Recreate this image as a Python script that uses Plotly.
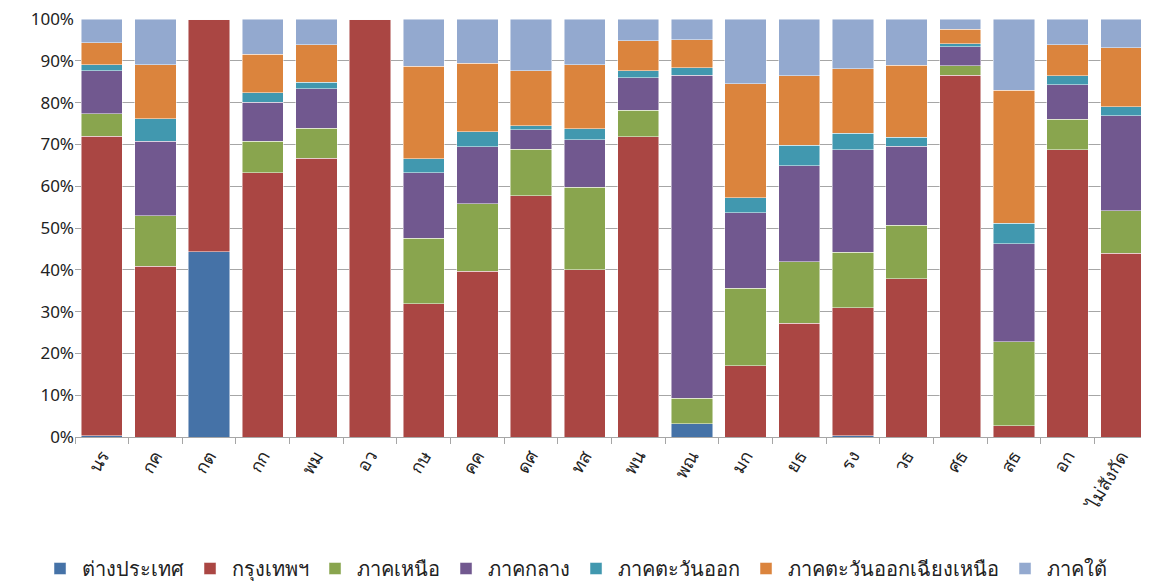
import plotly.graph_objects as go

ministries = ['นร', 'กค', 'กต', 'กก', 'พม', 'อว', 'กษ', 'คค', 'ดศ', 'ทส',
              'พน', 'พณ', 'มก', 'ยธ', 'รง', 'วธ', 'ศธ', 'สธ', 'อก', 'ไม่สังกัด']

foreign = [0.3, 0, 44.3, 0, 0, 0, 0, 0, 0, 0, 0, 3.2, 0, 0, 0.3, 0, 0, 0, 0, 0]
bangkok = [71.7, 40.9, 55.7, 63.2, 66.7, 100, 31.9, 39.7, 57.7, 40.0,
           71.8, 0, 17.0, 27.2, 30.6, 37.9, 86.6, 2.7, 68.7, 44.0]
north = [5.3, 12.0, 0, 7.6, 7.2, 0, 15.6, 16.1, 11.2, 19.8,
         6.4, 6.1, 18.6, 14.7, 13.3, 12.8, 2.2, 20.1, 7.3, 10.1]
central = [10.3, 17.9, 0, 9.3, 9.4, 0, 15.7, 13.6, 4.6, 11.3,
           7.8, 77.3, 18.1, 23.0, 24.5, 18.9, 4.6, 23.4, 8.3, 22.7]
east = [1.4, 5.3, 0, 2.2, 1.6, 0, 3.4, 3.6, 1.0, 2.7,
        1.6, 1.7, 3.5, 4.9, 4.0, 2.1, 0.7, 4.9, 2.1, 2.2]
northeast = [5.3, 12.9, 0, 9.3, 8.9, 0, 22.1, 16.4, 13.1, 15.3,
             7.2, 6.7, 27.3, 16.6, 15.4, 17.2, 3.4, 31.9, 7.5, 14.1]
south = [5.7, 11.0, 0, 8.4, 6.2, 0, 11.3, 10.6, 12.4, 10.9,
         5.2, 5.0, 15.5, 13.6, 11.9, 11.1, 2.5, 17.0, 6.1, 6.9]

series = [
    ('ต่างประเทศ', foreign, '#4572A7'),
    ('กรุงเทพฯ', bangkok, '#AA4643'),
    ('ภาคเหนือ', north, '#89A54E'),
    ('ภาคกลาง', central, '#71588F'),
    ('ภาคตะวันออก', east, '#4198AF'),
    ('ภาคตะวันออกเฉียงเหนือ', northeast, '#DB843D'),
    ('ภาคใต้', south, '#93A9CF'),
]

fig = go.Figure()
for name, vals, color in series:
    fig.add_trace(go.Bar(x=ministries, y=vals, name=name,
                         marker=dict(color=color, line=dict(color='rgba(255,255,255,0.6)', width=0.8))))

# page shows the figure shifted by 8px, margins compensate for it
fig.update_layout(
    barmode='stack', barnorm='percent', bargap=0.23,
    width=1149, height=581,
    margin=dict(l=67, r=9, t=11, b=152, autoexpand=False),
    plot_bgcolor='white', paper_bgcolor='white',
    font=dict(family='Noto Sans, DejaVu Sans, sans-serif', color='#222'),
    legend=dict(orientation='h', traceorder='normal', x=-0.034, xanchor='left',
                y=-0.268, yanchor='top', font=dict(size=20), tracegroupgap=0,
                itemwidth=33),
)
fig.update_yaxes(range=[0, 100], dtick=10, ticksuffix='%', showgrid=True,
                 gridcolor='#a6a6a6', gridwidth=1.3, tickfont=dict(size=17),
                 showline=False, zeroline=False, automargin=False,
                 ticklabeloverflow='allow')
fig.update_xaxes(tickangle=-60, tickfont=dict(size=18, family='Noto Sans, DejaVu Sans, sans-serif'),
                 showline=True, linecolor='#a6a6a6', linewidth=1.3, automargin=False,
                 ticks='outside', tickson='boundaries', ticklen=6, tickcolor='#a6a6a6')
fig.write_html("out.html")
